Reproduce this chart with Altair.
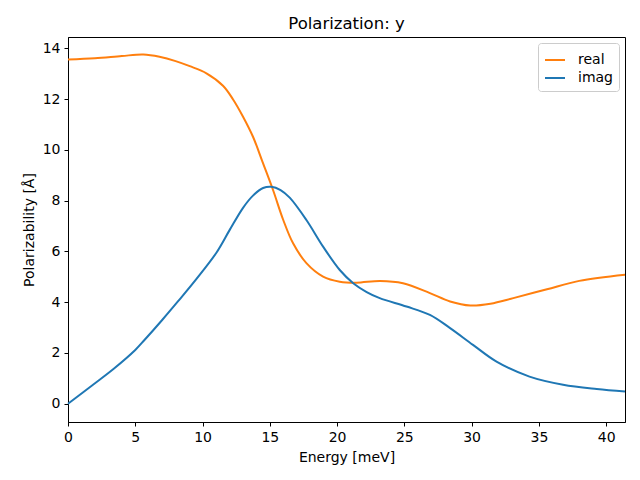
import altair as alt
import pandas as pd

real_x = [0, 2, 4, 5.6, 6.8, 8, 9.05, 10.29, 11.52, 12.27, 13.01, 13.75, 14.5, 15.24, 16.0,
          16.73, 17.72, 18.96, 20.2, 21.44, 23.2, 24.9, 26.9, 28.4, 29.9, 31.4, 33.1, 35.6,
          38.0, 41.4]
real_y = [13.56, 13.61, 13.70, 13.76, 13.67, 13.50, 13.30, 13.02, 12.53, 11.99, 11.31, 10.52,
          9.47, 8.42, 7.24, 6.32, 5.54, 5.01, 4.81, 4.77, 4.84, 4.75, 4.36, 4.03, 3.87, 3.94,
          4.16, 4.51, 4.84, 5.08]

imag_x = [0, 1.86, 3.4, 5.0, 5.7, 7.0, 8.2, 9.55, 11.03, 12.02, 13.01, 13.75, 14.5, 15.12,
          15.8, 16.48, 17.72, 18.96, 20.2, 21.2, 22.2, 23.17, 25.16, 26.9, 28.4, 30.1, 31.85,
          34.3, 36.8, 39.3, 41.4]
imag_y = [0, 0.75, 1.38, 2.12, 2.52, 3.30, 4.05, 4.92, 5.95, 6.85, 7.72, 8.20, 8.50, 8.55,
          8.42, 8.12, 7.24, 6.19, 5.27, 4.75, 4.40, 4.16, 3.83, 3.50, 2.98, 2.32, 1.66, 1.07,
          0.75, 0.58, 0.48]

series = ["real", "imag"]
colors = ["#ff7f0e", "#1f77b4"]
x_ticks = [0, 5, 10, 15, 20, 25, 30, 35, 40]
y_ticks = [0, 2, 4, 6, 8, 10, 12, 14]

df = pd.concat([
    pd.DataFrame({"x": real_x, "y": real_y, "s": "real", "o": 0}),
    pd.DataFrame({"x": imag_x, "y": imag_y, "s": "imag", "o": 1}),
])

FONT = "DejaVu Sans"

chart = alt.Chart(df).mark_line(strokeWidth=2, interpolate="catmull-rom").encode(
    x=alt.X("x:Q", title="Energy [meV]",
            scale=alt.Scale(domain=[0, 41.4], nice=False, zero=False),
            axis=alt.Axis(values=x_ticks, format="d", grid=False)),
    y=alt.Y("y:Q", title="Polarizability [Å]",
            scale=alt.Scale(domain=[-0.72, 14.45], nice=False, zero=False),
            axis=alt.Axis(values=y_ticks, format="d", grid=False)),
    color=alt.Color("s:N", scale=alt.Scale(domain=series, range=colors),
                    legend=alt.Legend(title=None, orient="top-right", offset=6,
                                      symbolType="stroke", symbolStrokeWidth=2,
                                      symbolSize=400, labelFontSize=14, labelFont=FONT,
                                      labelColor="black", fillColor="white",
                                      strokeColor="#cccccc", cornerRadius=3, padding=6,
                                      rowPadding=0, labelOffset=12)),
    order="o:Q",
    detail="s:N",
).properties(
    width=557, height=385,
    title=alt.TitleParams("Polarization: y", fontSize=16.5, font=FONT, fontWeight="normal",
                          color="black", anchor="middle", offset=5),
    autosize=alt.AutoSizeParams(type="none"),
    padding={"left": 60, "top": 29, "right": 7, "bottom": 50},
).configure_view(
    stroke="black", strokeWidth=1
).configure_axis(
    domainColor="black", tickColor="black", tickSize=4, labelColor="black",
    labelFontSize=14, labelFont=FONT, titleFont=FONT, titleFontSize=14,
    titleFontWeight="normal", titleColor="black", labelPadding=4, titlePadding=6,
    labelFlush=False, labelOverlap=False
)

chart.save("out.html", embed_options={"renderer": "svg", "actions": False})
